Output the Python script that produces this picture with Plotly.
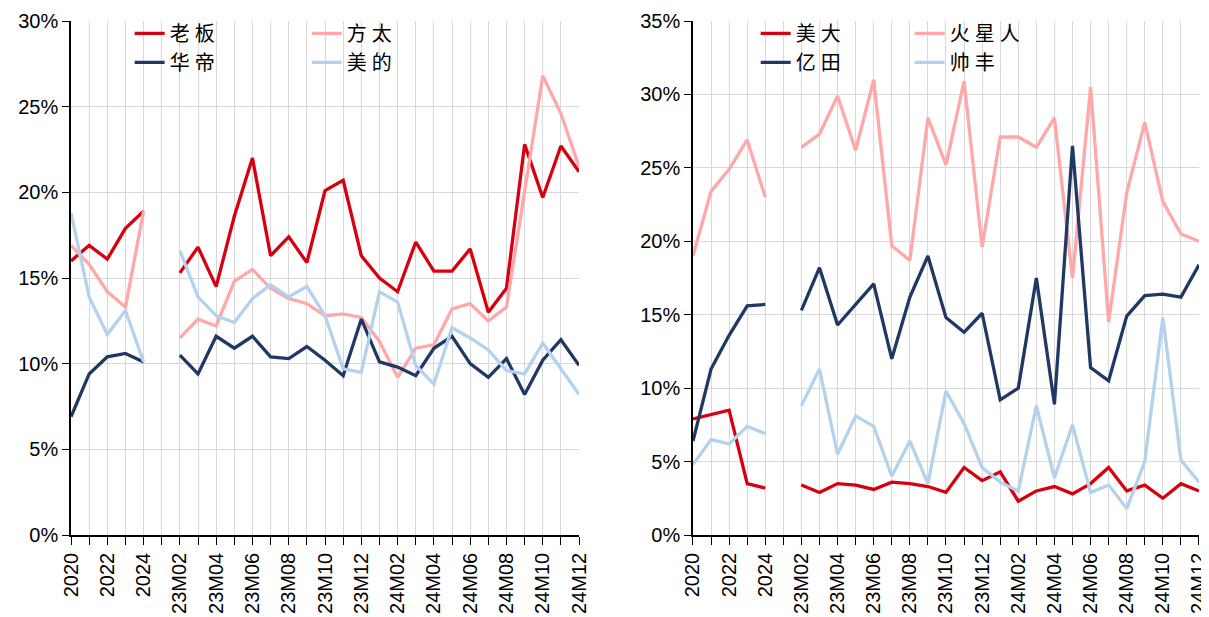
import plotly.graph_objects as go

categories = ['2020', '2021', '2022', '2023', '2024', ' ',
              '23M02', '23M03', '23M04', '23M05', '23M06', '23M07', '23M08', '23M09', '23M10', '23M11', '23M12',
              '24M01', '24M02', '24M03', '24M04', '24M05', '24M06', '24M07', '24M08', '24M09', '24M10', '24M11', '24M12']
tick_labels = ['2020', '', '2022', '', '2024', '',
               '23M02', '', '23M04', '', '23M06', '', '23M08', '', '23M10', '', '23M12',
               '', '24M02', '', '24M04', '', '24M06', '', '24M08', '', '24M10', '', '24M12']

# left panel (%)
laoban = [16.0, 16.9, 16.1, 17.9, 18.9, None,
          15.3, 16.8, 14.5, 18.6, 22.0, 16.3, 17.4, 15.9, 20.1, 20.7, 16.3,
          15.0, 14.2, 17.1, 15.4, 15.4, 16.7, 13.0, 14.4, 22.8, 19.7, 22.7, 21.2]
fangtai = [16.9, 15.8, 14.2, 13.3, 18.9, None,
           11.5, 12.6, 12.2, 14.8, 15.5, 14.4, 13.8, 13.5, 12.8, 12.9, 12.7,
           11.3, 9.2, 10.9, 11.1, 13.2, 13.5, 12.5, 13.3, 20.0, 26.8, 24.6, 21.5]
huadi = [6.9, 9.4, 10.4, 10.6, 10.1, None,
         10.5, 9.4, 11.6, 10.9, 11.6, 10.4, 10.3, 11.0, 10.2, 9.3, 12.6,
         10.1, 9.8, 9.3, 10.9, 11.6, 10.0, 9.2, 10.3, 8.2, 10.2, 11.4, 9.9]
meidi = [18.8, 13.9, 11.7, 13.1, 10.1, None,
         16.6, 13.9, 12.8, 12.4, 13.8, 14.6, 13.9, 14.5, 12.8, 9.7, 9.5,
         14.2, 13.6, 9.9, 8.8, 12.1, 11.5, 10.8, 9.6, 9.4, 11.2, 9.7, 8.2]

# right panel (%)
meida = [7.9, 8.2, 8.5, 3.5, 3.2, None,
         3.4, 2.9, 3.5, 3.4, 3.1, 3.6, 3.5, 3.3, 2.9, 4.6, 3.7,
         4.3, 2.3, 3.0, 3.3, 2.8, 3.5, 4.6, 3.0, 3.4, 2.5, 3.5, 3.0]
huoxingren = [19.0, 23.4, 24.9, 26.9, 23.0, None,
              26.4, 27.3, 29.9, 26.2, 31.0, 19.7, 18.7, 28.4, 25.2, 30.9, 19.6,
              27.1, 27.1, 26.4, 28.4, 17.5, 30.5, 14.5, 23.3, 28.1, 22.7, 20.5, 20.0]
yitian = [6.4, 11.3, 13.6, 15.6, 15.7, None,
          15.3, 18.2, 14.3, 15.7, 17.1, 12.0, 16.2, 19.0, 14.8, 13.8, 15.1,
          9.2, 10.0, 17.5, 8.9, 26.5, 11.4, 10.5, 14.9, 16.3, 16.4, 16.2, 18.4]
shuaifeng = [4.8, 6.5, 6.2, 7.4, 6.9, None,
             8.8, 11.3, 5.5, 8.1, 7.4, 4.0, 6.4, 3.5, 9.8, 7.6, 4.6,
             3.6, 3.0, 8.8, 3.9, 7.5, 2.9, 3.4, 1.8, 5.0, 14.8, 5.1, 3.6]

left_names = ['老板', '方太', '华帝', '美的']
right_names = ['美大', '火星人', '亿田', '帅丰']

RED = '#D7000F'
PINK = '#FFA7A9'
NAVY = '#1F3864'
LBLUE = '#B4D2EE'

def spaced(s):
    return '\u2005'.join(list(s))

fig = go.Figure()

left_series = [(laoban, RED, 'legend'), (fangtai, PINK, 'legend2'),
               (huadi, NAVY, 'legend'), (meidi, LBLUE, 'legend2')]
for (vals, col, lg), nm in zip(left_series, left_names):
    fig.add_trace(go.Scatter(x=categories, y=vals, name=spaced(nm), mode='lines',
                             line=dict(color=col, width=3.3), connectgaps=False,
                             xaxis='x', yaxis='y', legend=lg))

right_series = [(meida, RED, 'legend3'), (huoxingren, PINK, 'legend4'),
                (yitian, NAVY, 'legend3'), (shuaifeng, LBLUE, 'legend4')]
for (vals, col, lg), nm in zip(right_series, right_names):
    fig.add_trace(go.Scatter(x=categories, y=vals, name=spaced(nm), mode='lines',
                             line=dict(color=col, width=3.3), connectgaps=False,
                             xaxis='x2', yaxis='y2', legend=lg))

tickfont = dict(family='Liberation Sans, Arial, sans-serif', size=20, color='#000000')
xcommon = dict(type='category', tickmode='array', tickvals=categories, ticktext=tick_labels,
               tickangle=-90, range=[0, len(categories) - 1], showgrid=True,
               gridcolor='#D9D9D9', gridwidth=1.2, showline=True, linecolor='#000000',
               linewidth=1.5, ticks='outside', ticklen=8, tickcolor='#000000',
               tickfont=tickfont, zeroline=False, fixedrange=True, automargin=False)
ycommon = dict(showgrid=True, gridcolor='#D9D9D9', gridwidth=1.2, showline=True,
               linecolor='#000000', linewidth=1.5, ticks='outside', ticklen=7,
               tickcolor='#000000', ticksuffix='%', tickfont=tickfont, zeroline=False,
               dtick=5, tick0=0, automargin=False)

legfont = dict(family='Noto Sans CJK SC', size=20, color='#000000')
legcommon = dict(orientation='v', yanchor='top', xanchor='left', bgcolor='rgba(0,0,0,0)',
                 font=legfont, tracegroupgap=0, itemwidth=30)

# page body has an 8px default margin, so the figure is sized/offset to compensate
fig.update_layout(
    width=1201, height=609,
    margin=dict(l=63, r=10, t=13, b=82, autoexpand=False),
    paper_bgcolor='white', plot_bgcolor='white',
    xaxis=dict(domain=[0, 0.4504], anchor='y', **xcommon),
    yaxis=dict(range=[0, 30], anchor='x', **ycommon),
    xaxis2=dict(domain=[0.5514, 1], anchor='y2', **xcommon),
    yaxis2=dict(range=[0, 35], anchor='x2', **ycommon),
    legend=dict(x=0.052, y=1.014, **legcommon),
    legend2=dict(x=0.209, y=1.014, **legcommon),
    legend3=dict(x=0.607, y=1.014, **legcommon),
    legend4=dict(x=0.7435, y=1.014, **legcommon),
    showlegend=True,
)

fig.write_html('out.html')
